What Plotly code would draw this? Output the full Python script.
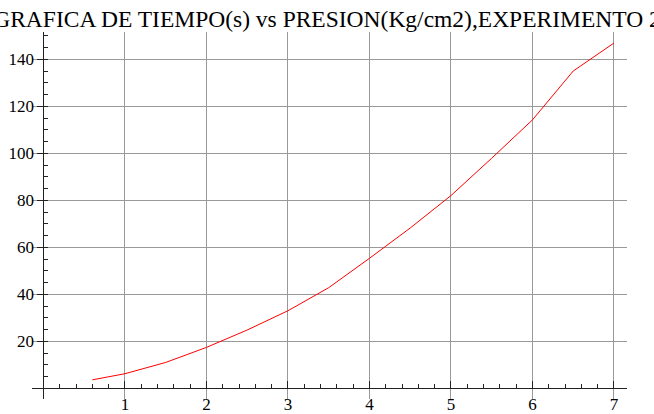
import plotly.graph_objects as go

# Data
presion = [0.6, 1.0, 1.5, 2.0, 2.5, 3.0, 3.5, 4.0, 4.5, 5.0, 5.5, 6.0, 6.5, 7.0]
tiempo = [3.6, 6.2, 11.0, 17.4, 24.8, 33.0, 42.8, 55.3, 68.2, 82.0, 97.9, 114.2, 135.0, 146.9]
x_ticks = [1, 2, 3, 4, 5, 6, 7]
y_ticks = [20, 40, 60, 80, 100, 120, 140]
title_text = "GRAFICA DE TIEMPO(s) vs PRESION(Kg/cm2),EXPERIMENTO 2"

x_range = [-0.14, 7.16]
y_range = [-4.55, 151.6]

SERIF = "Liberation Serif"

fig = go.Figure()
fig.add_trace(go.Scatter(x=presion, y=tiempo, mode="lines",
                         line=dict(color="#ff0000", width=1), showlegend=False))

fig.update_layout(
    width=654, height=414,
    margin=dict(l=32, r=27, t=32, b=15, autoexpand=False),
    paper_bgcolor="white", plot_bgcolor="white",
    font=dict(family=SERIF, color="black", size=16),
    title=dict(text=title_text, x=0.5, xanchor="center", y=0.975, yanchor="top",
               font=dict(size=23.5, family=SERIF, color="black"), automargin=False),
    xaxis=dict(range=x_range, tickvals=x_ticks, ticktext=[str(v) for v in x_ticks],
               showgrid=True, gridcolor="#999999", gridwidth=1, automargin=False,
               zeroline=False, showline=True, linecolor="#222222", linewidth=1,
               anchor="free", position=(0 - y_range[0]) / (y_range[1] - y_range[0]),
               ticks="inside", ticklen=7, tickcolor="#222222",
               tickfont=dict(size=17, family=SERIF, color="black"),
               minor=dict(dtick=0.2, tick0=0, ticks="inside", ticklen=4,
                          tickcolor="#222222", showgrid=False)),
    yaxis=dict(range=y_range, tickvals=y_ticks, ticktext=[str(v) for v in y_ticks],
               showgrid=True, gridcolor="#999999", gridwidth=1, automargin=False,
               zeroline=False, showline=True, linecolor="#222222", linewidth=1,
               anchor="free", position=(0 - x_range[0]) / (x_range[1] - x_range[0]),
               ticks="outside", ticklen=6, tickcolor="#222222",
               tickfont=dict(size=17, family=SERIF, color="black"),
               minor=dict(dtick=5, tick0=0, ticks="inside", ticklen=4,
                          tickcolor="#222222", showgrid=False)),
)

fig.write_html("out.html", config={"displayModeBar": False},
               post_script="document.body.style.margin='0';")
